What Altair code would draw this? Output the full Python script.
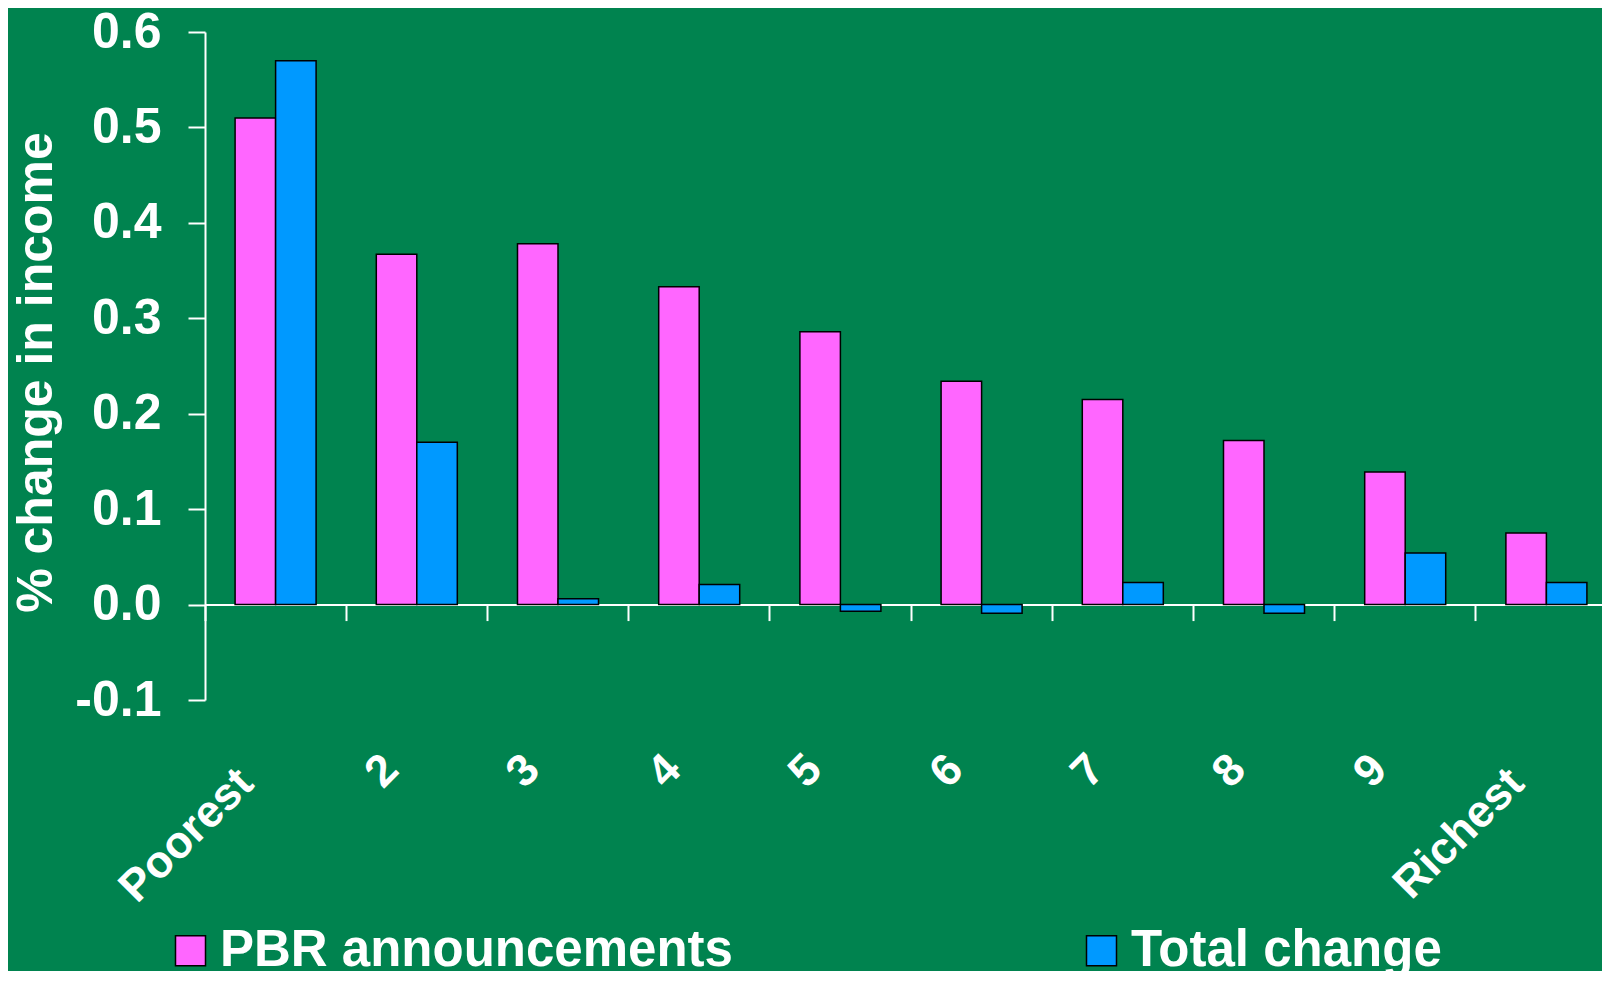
import altair as alt
import pandas as pd

# ---- data ----
categories = ["Poorest", "2", "3", "4", "5", "6", "7", "8", "9", "Richest"]
pbr_announcements = [0.510, 0.367, 0.378, 0.333, 0.286, 0.234, 0.215, 0.172, 0.139, 0.075]
total_change = [0.570, 0.170, 0.006, 0.021, -0.007, -0.009, 0.023, -0.009, 0.054, 0.023]
series_names = ["PBR announcements", "Total change"]
series_colors = ["#FF66FF", "#0099FF"]
y_tick_values = [-0.1, 0.0, 0.1, 0.2, 0.3, 0.4, 0.5, 0.6]

rows = []
for i, cat in enumerate(categories):
    rows.append({"group": cat, "series": series_names[0], "value": pbr_announcements[i]})
    rows.append({"group": cat, "series": series_names[1], "value": total_change[i]})
df = pd.DataFrame(rows)

FONT = "Liberation Sans"
BG = "#00834F"
PAD_LEFT = 197
PAD_TOP = 24
W = 1594 - PAD_LEFT
H = 668
SVG_H = 963
BAND_RANGE = 1412
ZERO_OFFSET = -H / 7.0  # move x axis up to y = 0

long_label = "length(datum.label) > 1"

chart = alt.Chart(df).mark_bar(stroke="black", strokeWidth=1.5).encode(
    x=alt.X(
        "group:N",
        sort=categories,
        scale=alt.Scale(range=[0, BAND_RANGE], paddingInner=0, paddingOuter=0),
        axis=alt.Axis(
            title=None,
            offset=ZERO_OFFSET,
            bandPosition=0,
            domainColor="white",
            domainWidth=2,
            tickColor="white",
            tickWidth=2,
            tickSize=16,
            labelAngle=315,
            labelAlign="right",
            labelBaseline="middle",
            labelColor="white",
            labelFont=FONT,
            labelFontWeight="bold",
            labelFontSize=45,
            labelLimit=1000,
            labelOverlap=False,
            labelPadding={"condition": {"test": long_label, "value": 155}, "value": 141},
            labelOffset={"condition": {"test": long_label, "value": -30}, "value": -26},
        ),
    ),
    xOffset=alt.XOffset(
        "series:N",
        sort=series_names,
        scale=alt.Scale(paddingOuter=0.743, paddingInner=0),
    ),
    y=alt.Y(
        "value:Q",
        scale=alt.Scale(domain=[-0.1, 0.6], nice=False),
        axis=alt.Axis(
            title="% change in income",
            values=y_tick_values,
            labelExpr="datum.value < 0 ? '-' + format(-datum.value, '.1f') : format(datum.value, '.1f')",
            grid=False,
            domainColor="white",
            domainWidth=2,
            tickColor="white",
            tickWidth=2,
            tickSize=17,
            labelPadding=27,
            labelColor="white",
            labelFont=FONT,
            labelFontWeight="bold",
            labelFontSize=50,
            labelBaseline="middle",
            titleColor="white",
            titleFont=FONT,
            titleFontWeight="bold",
            titleFontSize=50,
            titleAngle=270,
            titleAlign="center",
            titleBaseline="alphabetic",
            titleX=-154,
            titleY=340,
        ),
    ),
    color=alt.Color(
        "series:N",
        sort=series_names,
        scale=alt.Scale(domain=series_names, range=series_colors),
        legend=alt.Legend(
            title=None,
            orient="none",
            legendX=-40,
            legendY=893,
            direction="horizontal",
            columnPadding=343,
            symbolType="square",
            symbolSize=900,
            symbolStrokeColor="black",
            symbolStrokeWidth=1.5,
            symbolOpacity=1,
            labelOffset=4,
            labelLimit=2000,
            labelColor="white",
            labelFont=FONT,
            labelFontWeight="bold",
            labelFontSize=51,
        ),
    ),
).properties(
    width=W,
    height=H,
    autosize=alt.AutoSizeParams(type="none"),
    padding={"left": PAD_LEFT, "top": PAD_TOP, "right": 0, "bottom": SVG_H - PAD_TOP - H},
).configure(
    background=BG
).configure_view(
    stroke=None
)

chart.save("out.html", embed_options={"renderer": "svg", "actions": False})
